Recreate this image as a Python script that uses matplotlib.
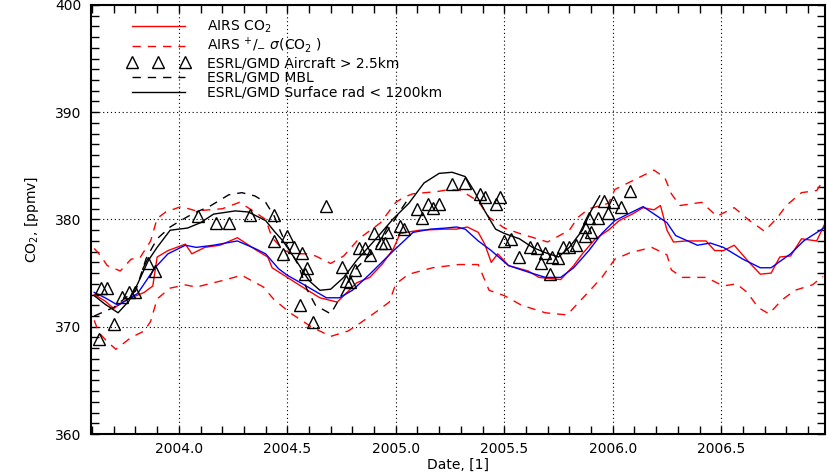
import matplotlib
matplotlib.use('Agg')
import matplotlib.pyplot as plt
from matplotlib.ticker import MultipleLocator, FormatStrFormatter
import numpy as np

plt.rcParams['font.family'] = 'DejaVu Sans'
plt.rcParams['font.size'] = 10

# AIRS CO2 (red solid)
airs_date = [2003.61, 2003.66, 2003.70, 2003.74, 2003.77, 2003.84, 2003.88, 2003.90, 2003.95,
             2004.03, 2004.06, 2004.12, 2004.19, 2004.27, 2004.36, 2004.41, 2004.43, 2004.50,
             2004.57, 2004.65, 2004.73, 2004.77, 2004.82, 2004.88, 2004.94, 2004.99, 2005.02,
             2005.11, 2005.23, 2005.28, 2005.33, 2005.38, 2005.41, 2005.44, 2005.47, 2005.52,
             2005.61, 2005.66, 2005.76, 2005.82, 2005.86, 2005.92, 2005.98, 2006.03, 2006.09,
             2006.14, 2006.19, 2006.22, 2006.25, 2006.28, 2006.34, 2006.43, 2006.47, 2006.51,
             2006.56, 2006.62, 2006.68, 2006.73, 2006.77, 2006.82, 2006.87, 2006.94, 2006.98]
airs_co2 = [373.0, 372.4, 371.7, 372.3, 372.6, 373.2, 373.8, 376.5, 377.1,
            377.7, 376.8, 377.4, 377.6, 378.3, 377.1, 376.5, 375.5, 374.6,
            373.7, 372.7, 372.3, 373.1, 374.1, 374.6, 375.9, 377.3, 378.7,
            379.0, 379.1, 379.1, 379.3, 378.8, 377.7, 376.0, 376.8, 375.7,
            375.2, 374.6, 374.4, 375.7, 376.8, 378.2, 379.0, 379.9, 380.5,
            381.1, 380.9, 381.3, 379.0, 377.9, 378.0, 378.0, 377.1, 377.1,
            377.6, 376.2, 374.9, 375.0, 376.5, 376.6, 378.2, 378.0, 379.7]

# AIRS + sigma (red dashed, upper)
upper_date = [2003.61, 2003.64, 2003.67, 2003.73, 2003.78, 2003.82, 2003.87, 2003.90, 2003.94,
              2004.01, 2004.08, 2004.14, 2004.20, 2004.28, 2004.35, 2004.40, 2004.43, 2004.48,
              2004.52, 2004.59, 2004.63, 2004.70, 2004.76, 2004.83, 2004.93, 2005.00, 2005.04,
              2005.08, 2005.19, 2005.25, 2005.30, 2005.38, 2005.43, 2005.50, 2005.57, 2005.70,
              2005.80, 2005.84, 2005.89, 2005.98, 2006.01, 2006.09, 2006.19, 2006.24, 2006.27,
              2006.31, 2006.41, 2006.48, 2006.56, 2006.63, 2006.70, 2006.76, 2006.80, 2006.87,
              2006.94, 2006.98]
upper_co2 = [377.3, 376.6, 375.7, 375.2, 376.3, 376.4, 378.0, 380.1, 380.7,
             381.2, 380.8, 380.9, 381.0, 381.6, 380.7, 380.0, 378.3, 377.2,
             376.8, 376.8, 376.6, 375.9, 376.6, 378.2, 379.7, 381.6, 382.1,
             382.4, 382.6, 382.8, 382.7, 381.7, 380.2, 379.2, 378.7, 377.9,
             379.0, 380.2, 381.0, 381.5, 382.8, 383.6, 384.6, 383.9, 382.4,
             381.3, 381.6, 380.3, 381.1, 379.9, 378.9, 380.2, 381.3, 382.5,
             382.7, 383.9]

# AIRS - sigma (red dashed, lower)
lower_date = [2003.61, 2003.63, 2003.67, 2003.71, 2003.78, 2003.84, 2003.87, 2003.90, 2003.96,
              2004.03, 2004.08, 2004.14, 2004.20, 2004.29, 2004.39, 2004.44, 2004.52, 2004.61,
              2004.70, 2004.78, 2004.84, 2004.91, 2004.97, 2005.00, 2005.06, 2005.17, 2005.29,
              2005.38, 2005.43, 2005.50, 2005.58, 2005.69, 2005.79, 2005.84, 2005.90, 2005.95,
              2006.01, 2006.08, 2006.18, 2006.25, 2006.27, 2006.32, 2006.43, 2006.51, 2006.57,
              2006.62, 2006.67, 2006.72, 2006.78, 2006.84, 2006.92, 2006.97]
lower_co2 = [370.6, 369.5, 368.6, 367.9, 369.0, 369.6, 370.5, 372.6, 373.6,
             373.9, 373.7, 374.0, 374.3, 374.8, 373.7, 372.5, 371.2, 370.0,
             369.1, 369.6, 370.4, 371.4, 372.3, 374.0, 374.9, 375.5, 375.8,
             375.8, 373.4, 372.9, 372.0, 371.3, 371.1, 372.2, 373.5, 374.6,
             376.3, 376.9, 377.4, 376.7, 375.3, 374.6, 374.6, 373.8, 374.0,
             373.2, 371.8, 371.2, 372.5, 373.4, 373.9, 374.7]

# blue smooth curve
blue_date = [2003.61, 2003.66, 2003.72, 2003.81, 2003.89, 2003.95, 2004.03, 2004.08, 2004.16,
             2004.27, 2004.35, 2004.40, 2004.46, 2004.50, 2004.57, 2004.68, 2004.74, 2004.80,
             2004.88, 2004.99, 2005.08, 2005.16, 2005.23, 2005.28, 2005.32, 2005.38, 2005.44,
             2005.52, 2005.61, 2005.69, 2005.76, 2005.82, 2005.89, 2005.95, 2006.01, 2006.07,
             2006.14, 2006.25, 2006.29, 2006.39, 2006.45, 2006.51, 2006.60, 2006.68, 2006.73,
             2006.82, 2006.88, 2006.98]
blue_co2 = [373.2, 372.7, 372.0, 373.1, 375.5, 376.8, 377.6, 377.4, 377.6,
            378.0, 377.3, 376.8, 375.4, 374.8, 374.0, 372.7, 372.7, 373.4,
            374.9, 377.1, 378.8, 379.1, 379.2, 379.3, 379.1, 378.0, 377.1,
            375.7, 375.1, 374.6, 374.6, 375.5, 377.1, 378.7, 379.9, 380.5,
            381.2, 379.7, 378.5, 377.6, 377.8, 377.4, 376.3, 375.5, 375.5,
            376.8, 378.0, 379.3]

# ESRL/GMD MBL (black dashed)
mbl_date = [2003.61, 2003.70, 2003.76, 2003.80, 2003.85, 2003.90, 2003.96, 2004.00, 2004.07,
            2004.14, 2004.23, 2004.29, 2004.35, 2004.40, 2004.44, 2004.47, 2004.50, 2004.55,
            2004.59, 2004.63, 2004.70, 2004.74, 2004.78, 2004.82, 2004.89, 2004.94, 2004.98,
            2005.02, 2005.06]
mbl_co2 = [371.0, 371.8, 372.8, 373.3, 376.4, 378.2, 379.3, 379.8, 380.6,
           381.2, 382.3, 382.5, 382.2, 381.6, 380.3, 378.8, 377.5, 375.8,
           373.5, 372.0, 371.2, 372.6, 374.1, 375.5, 376.9, 378.3, 379.5,
           380.8, 382.0]

# ESRL/GMD Surface rad < 1200km (black solid)
sfc_date = [2003.61, 2003.66, 2003.72, 2003.77, 2003.81, 2003.86, 2003.90, 2003.96, 2004.04,
            2004.10, 2004.16, 2004.26, 2004.32, 2004.40, 2004.44, 2004.48, 2004.54, 2004.60,
            2004.65, 2004.70, 2004.76, 2004.82, 2004.90, 2004.99, 2005.06, 2005.13, 2005.20,
            2005.26, 2005.32, 2005.36, 2005.41, 2005.46, 2005.50, 2005.57, 2005.63, 2005.69,
            2005.75, 2005.80, 2005.86, 2005.90, 2005.94]
sfc_co2 = [372.9, 372.1, 371.3, 372.4, 374.0, 376.2, 377.4, 379.0, 379.2,
           379.7, 380.5, 380.8, 380.7, 379.9, 378.9, 378.0, 376.2, 374.3,
           373.4, 373.5, 374.6, 376.2, 378.0, 380.1, 381.5, 383.4, 384.3,
           384.4, 384.0, 382.7, 380.8, 379.1, 378.7, 378.2, 377.4, 376.9,
           376.5, 377.4, 379.0, 380.8, 382.2]

# ESRL/GMD Aircraft > 2.5km (triangles)
air_date = [2003.63, 2003.70, 2003.64, 2003.67, 2003.74, 2003.77, 2003.80, 2003.86, 2003.89,
            2004.09, 2004.17, 2004.23, 2004.33, 2004.44, 2004.44, 2004.50, 2004.48, 2004.53,
            2004.57, 2004.59, 2004.58, 2004.68, 2004.56, 2004.62, 2004.75, 2004.81, 2004.77,
            2004.79, 2004.83, 2004.86, 2004.88, 2004.90, 2004.93, 2004.95, 2004.96, 2005.02,
            2005.04, 2005.10, 2005.12, 2005.15, 2005.17, 2005.20, 2005.26, 2005.32, 2005.39,
            2005.41, 2005.48, 2005.46, 2005.50, 2005.53, 2005.57, 2005.62, 2005.65, 2005.67,
            2005.69, 2005.72, 2005.75, 2005.71, 2005.77, 2005.80, 2005.83, 2005.87, 2005.90,
            2005.87, 2005.89, 2005.93, 2005.96, 2006.00, 2006.04, 2005.98, 2006.08]
air_co2 = [368.9, 370.3, 373.6, 373.6, 372.8, 373.2, 373.2, 375.9, 375.2,
           380.3, 379.7, 379.7, 380.4, 380.4, 378.0, 378.5, 376.8, 377.4,
           376.9, 375.5, 374.9, 381.3, 372.0, 370.4, 375.6, 375.3, 374.3,
           374.2, 377.3, 377.3, 376.7, 378.7, 377.8, 377.8, 378.8, 379.4,
           379.1, 381.0, 380.1, 381.4, 381.1, 381.4, 383.3, 383.4, 382.4,
           382.1, 382.1, 381.4, 378.0, 378.2, 376.5, 377.4, 377.3, 375.9,
           376.9, 376.5, 376.4, 374.9, 377.4, 377.4, 377.6, 378.5, 378.8,
           379.3, 380.1, 380.1, 381.7, 381.6, 381.2, 380.6, 382.7]

labels = ['AIRS CO$_2$',
          r'AIRS $^{+}/_{-}$ $\sigma$(CO$_2$ )',
          'ESRL/GMD Aircraft > 2.5km',
          'ESRL/GMD MBL',
          'ESRL/GMD Surface rad < 1200km']

fig = plt.figure(figsize=(8.27, 4.72), dpi=100)
ax = fig.add_axes([0.110, 0.0805, 0.888, 0.909])

dash = (0, (6, 5))
ax.plot(airs_date, airs_co2, color='red', lw=1.0, label=labels[0])
ax.plot(upper_date, upper_co2, color='red', lw=1.0, linestyle=dash, label=labels[1])
ax.plot(lower_date, lower_co2, color='red', lw=1.0, linestyle=dash)
ax.plot(blue_date, blue_co2, color='blue', lw=1.0)
ax.plot(air_date, air_co2, linestyle='none', marker='^', markersize=8,
        markerfacecolor='none', markeredgecolor='black', markeredgewidth=1.0, label=labels[2])
ax.plot(mbl_date, mbl_co2, color='black', lw=1.0, linestyle=dash, label=labels[3])
ax.plot(sfc_date, sfc_co2, color='black', lw=1.0, label=labels[4])

ax.set_xlim(2003.595, 2006.98)
ax.set_ylim(360, 400)
ax.xaxis.set_major_locator(MultipleLocator(0.5))
ax.xaxis.set_minor_locator(MultipleLocator(0.1))
ax.xaxis.set_major_formatter(FormatStrFormatter('%.1f'))
ax.yaxis.set_major_locator(MultipleLocator(10))
ax.yaxis.set_minor_locator(MultipleLocator(1))
ax.tick_params(which='both', direction='in', top=True, right=True, length=6, width=1.0)
ax.tick_params(axis='x', pad=6)
ax.tick_params(axis='y', pad=7)
for s in ax.spines.values():
    s.set_linewidth(1.5)

ax.grid(True, which='major', color='black', linestyle=(0, (1, 2.5)), linewidth=0.8)

ax.set_xlabel('Date, [1]', labelpad=1)
ax.set_ylabel('CO$_2$, [ppmv]', labelpad=10)

ax.legend(loc='upper left', bbox_to_anchor=(0.05, 0.968), frameon=False,
          handlelength=4.4, handletextpad=1.3, labelspacing=0.05, numpoints=3,
          borderpad=0, borderaxespad=0, fontsize=10)

plt.savefig('out.png', dpi=100)
